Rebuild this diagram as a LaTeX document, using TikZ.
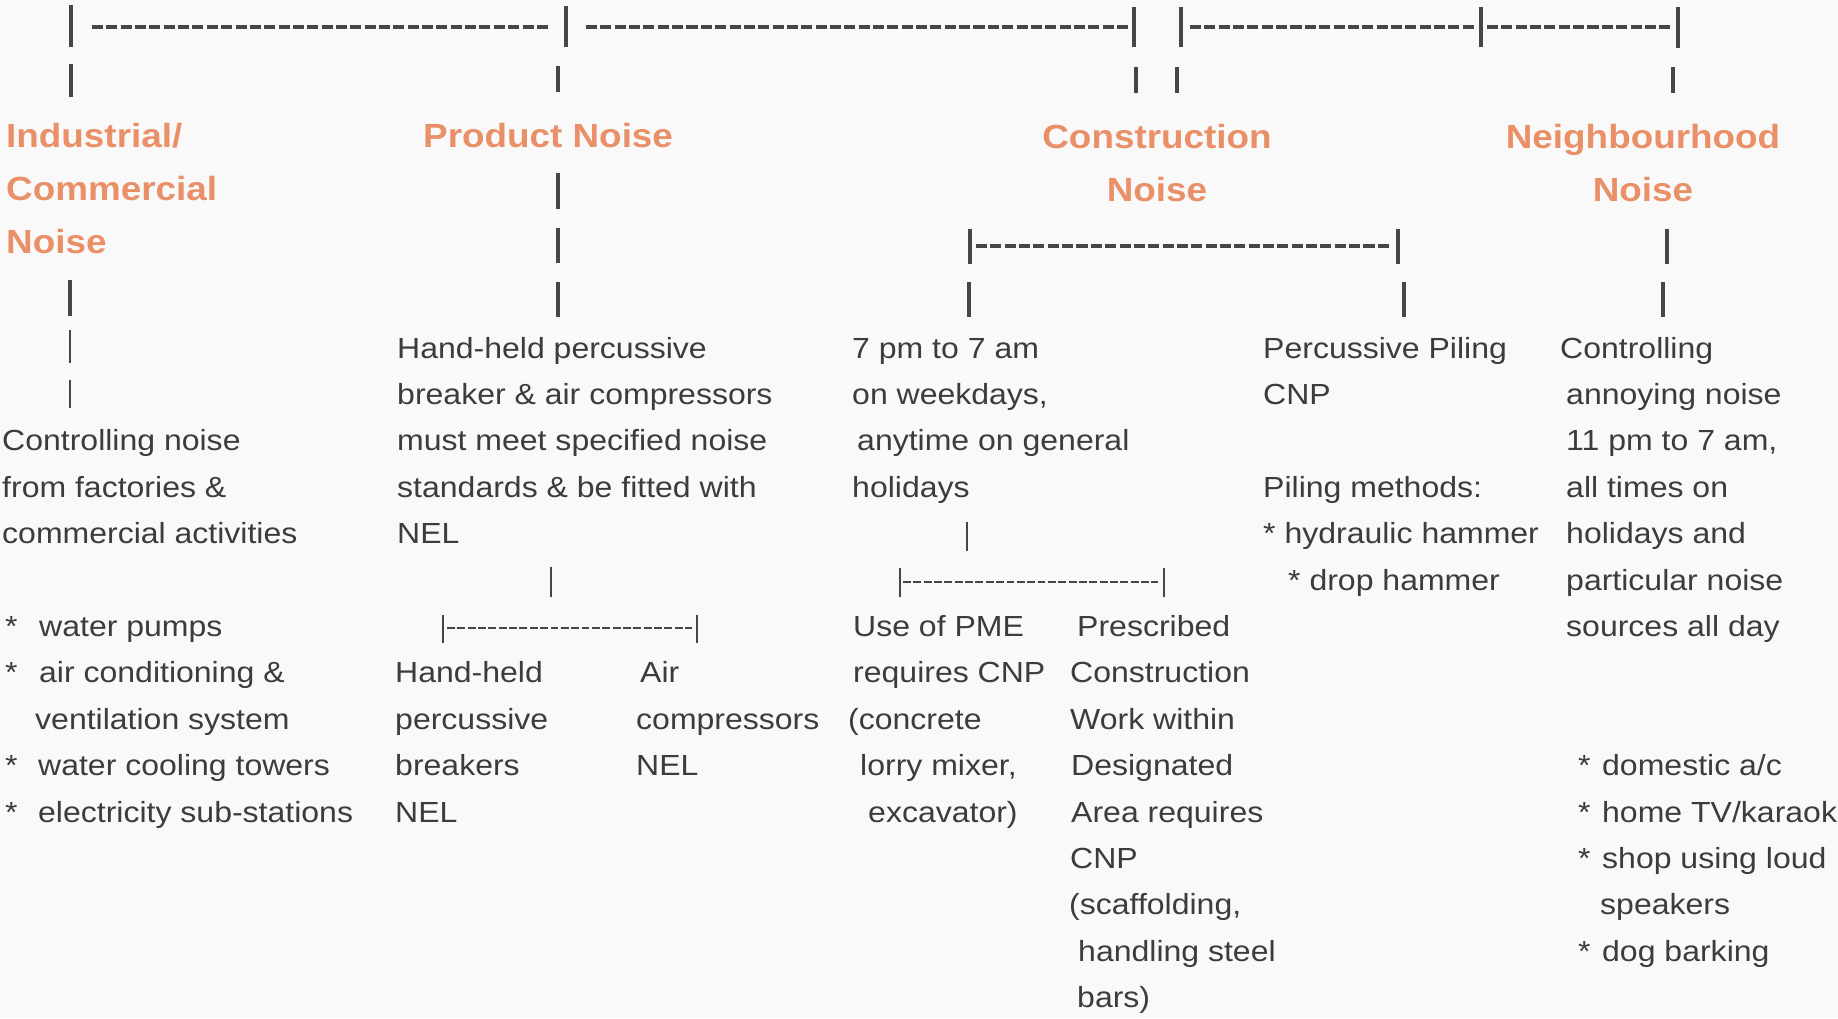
\documentclass[tikz,border=0pt]{standalone}
\usepackage{fontspec}
\setmainfont{Liberation Sans}
\newfontfamily\chartfont[FakeStretch=1.1]{Liberation Sans}
\usepackage{tikz}

\definecolor{headorange}{RGB}{233,144,104}
\definecolor{textgray}{RGB}{60,60,60}
\definecolor{linegray}{RGB}{70,70,70}
\definecolor{paper}{RGB}{249,249,249}

\tikzset{
  vbar/.style={draw=linegray, line width=4pt},
  thinbar/.style={draw=linegray, line width=2.3pt},
  bigdashes/.style={draw=linegray, line width=3.3pt, dash pattern=on 11.04pt off 3.31pt},
  smalldashes/.style={draw=linegray, line width=1.7pt, dash pattern=on 7.9pt off 2.45pt},
  heading/.style={inner sep=0pt, text=headorange, font=\chartfont\bfseries\fontsize{33.5}{53}\selectfont},
  body/.style={inner sep=0pt, anchor=base west, align=left, text=textgray, font=\chartfont\fontsize{29.1}{46.4}\selectfont}
}

\begin{document}
\begin{tikzpicture}[x=1pt, y=-1pt]
        % paper
        \fill[paper] (0,0) rectangle (1838,1018);
        \useasboundingbox (0,0) rectangle (1838,1018);

        % Top line joining the four kinds of noise
        \draw[vbar] (71,5) -- (71,47);
        \draw[bigdashes] (92,27) -- (548,27);
        \draw[vbar] (566,6) -- (566,47);
        \draw[bigdashes] (586,27) -- (1128,27);
        \draw[vbar] (1134,7) -- (1134,47);
        \draw[vbar] (1181,7) -- (1181,47);
        \draw[bigdashes] (1190,27) -- (1475,27);
        \draw[vbar] (1481,7) -- (1481,47);
        \draw[bigdashes] (1487,27) -- (1672,27);
        \draw[vbar] (1678,7) -- (1678,48);

        % Drops to the headings
        \draw[vbar] (71,64) -- (71,97);
        \draw[vbar] (558,66) -- (558,92);
        \draw[vbar] (1136,67) -- (1136,93);
        \draw[vbar] (1177,67) -- (1177,93);
        \draw[vbar] (1673,67) -- (1673,93);

        % Headings (a node's base is the baseline of its last line)
        \node[heading, anchor=base west, align=left] (indhead) at (6,253) {Industrial/\\Commercial\\Noise};
        \node[heading, anchor=base west] (prodhead) at (423,147) {Product Noise};
        \node[heading, anchor=base, align=center] (conshead) at (1157,201) {Construction\\Noise};
        \node[heading, anchor=base, align=center] (neighhead) at (1643,201) {Neighbourhood\\Noise};

        % Product Noise: bars under the heading
        \draw[vbar] (558,173) -- (558,209);
        \draw[vbar] (558,228) -- (558,263);

        % Construction Noise splits in two
        \draw[vbar] (970,229) -- (970,264);
        \draw[bigdashes] (976,246) -- (1390,246);
        \draw[vbar] (1398,229) -- (1398,264);

        % Neighbourhood Noise
        \draw[vbar] (1667,229) -- (1667,264);

        % Drops to the texts
        \draw[vbar] (70,280) -- (70,316);
        \draw[vbar] (558,282) -- (558,317);
        \draw[vbar] (969,282) -- (969,317);
        \draw[vbar] (1404,282) -- (1404,317);
        \draw[vbar] (1663,282) -- (1663,317);
        \draw[thinbar] (70,330) -- (70,363);
        \draw[thinbar] (70,380) -- (70,408);

        % Industrial/Commercial
        \node[body] (indtext) at (2,543.6) {Controlling noise\\from factories \&\\commercial activities};
        \node[body] (indlist) at (5,822) {\makebox[34pt][l]{*}water pumps\\
          \makebox[34pt][l]{*}air conditioning \&\\
          \hspace*{30pt}ventilation system\\
          \makebox[33pt][l]{*}water cooling towers\\
          \makebox[33pt][l]{*}electricity sub-stations};

        % Product
        \node[body] (prodtext) at (397,543.6) {Hand-held percussive\\breaker \& air compressors\\must meet specified noise\\standards \& be fitted with\\NEL};
        \draw[thinbar] (551,567) -- (551,597);
        \draw[thinbar] (443,615) -- (443,643);
        \draw[smalldashes] (447,628) -- (692,628);
        \draw[thinbar] (697,615) -- (697,643);
        \node[body] (breakers) at (395,822) {Hand-held\\percussive\\breakers\\NEL};
        \node[body] (compressors) at (636,775.6) {\hspace*{4pt}Air\\compressors\\NEL};

        % Construction: night and holidays
        \node[body] (nighttext) at (852,497.2) {7 pm to 7 am\\on weekdays,\\\hspace*{5pt}anytime on general\\holidays};
        \draw[thinbar] (967,522) -- (967,551);
        \draw[thinbar] (900,568) -- (900,597);
        \draw[smalldashes] (903,582) -- (1158,582);
        \draw[thinbar] (1164,568) -- (1164,597);
        \node[body] (pmetext) at (848,822) {\hspace*{5pt}Use of PME\\\hspace*{5pt}requires CNP\\(concrete\\\hspace*{12pt}lorry mixer,\\\hspace*{20pt}excavator)};
        \node[body] (dawtext) at (1069,1007.6) {\hspace*{8pt}Prescribed\\\hspace*{1pt}Construction\\\hspace*{1pt}Work within\\\hspace*{2pt}Designated\\\hspace*{2pt}Area requires\\\hspace*{1pt}CNP\\(scaffolding,\\\hspace*{9pt}handling steel\\\hspace*{8pt}bars)};

        % Construction: piling
        \node[body] (pilingtext) at (1263,404.4) {Percussive Piling\\CNP};
        \node[body] (methods) at (1263,590) {Piling methods:\\* hydraulic hammer\\\hspace*{25pt}* drop hammer};

        % Neighbourhood
        \node[body] (neightext) at (1560,636.4) {Controlling\\\hspace*{6pt}annoying noise\\\hspace*{6pt}11 pm to 7 am,\\\hspace*{6pt}all times on\\\hspace*{6pt}holidays and\\\hspace*{6pt}particular noise\\\hspace*{6pt}sources all day};
        \node[body] (neighlist) at (1578,961.2) {\makebox[24pt][l]{*}domestic a/c\\
          \makebox[24pt][l]{*}home TV/karaok\\
          \makebox[24pt][l]{*}shop using loud\\
          \hspace*{22pt}speakers\\
          \makebox[24pt][l]{*}dog barking};

    \end{tikzpicture}
\end{document}
